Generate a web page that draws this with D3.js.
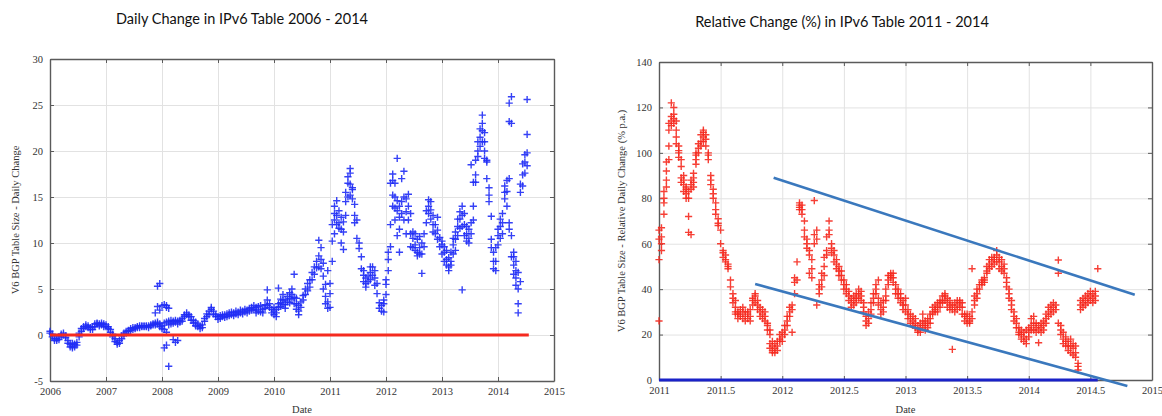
<!DOCTYPE html>
<html>
<head>
<meta charset="utf-8">
<script src="https://cdn.jsdelivr.net/npm/d3@7"></script>
<style>
  body { margin: 0; background: #ffffff; }
  .tick text { font-family: "Liberation Serif", "DejaVu Serif", serif; font-size: 10.5px; fill: #333; }
  .axis-label { font-family: "Liberation Serif", "DejaVu Serif", serif; font-size: 10.5px; fill: #333; }
  .title { font-family: Lato, "Open Sans", sans-serif; font-size: 14.5px; fill: #111; }
</style>
</head>
<body>
<svg id="chart" width="1162" height="416"></svg>
<script>
// ---- Daily change in the IPv6 BGP table (prefixes per day) ----
// One entry every 0.04 year from the start of each year; an entry lists the values observed around that date.
const dailyStep = 0.04;
const daily2006 = [[0.4,0.2],[0.1,-0.2],[-0.4,-0.6],[-0.6,-0.4],[-0.5,-0.2],[-0.1,0.1],[0.2,0.0],[-0.1,-0.3],[-0.6,-0.9],[-1.0,-1.3],
  [-1.2,-1.4,-0.9],[-1.3,-1.0],[-0.8,-1.1],[-0.2,0.2],[0.4,0.7],[0.7,0.9],[0.9,1.1],[1.0,0.8],[0.8,0.6],[0.6,0.9],
  [0.9,1.2],[1.2,1.3],[1.2,1.0],[1.1,1.3],[1.2,0.9]];
const daily2007 = [[1.1,0.9],[0.9,0.7],[0.6,0.3],[0.1,-0.2],[-0.4,-0.7],[-0.8,-1.0],[-0.9,-0.6],[-0.4,-0.1],[0.0,0.2],[0.2,0.4],
  [0.4,0.5],[0.5,0.7],[0.6,0.8],[0.7,0.8],[0.8,0.9],[0.8,1.0],[0.9,1.0],[0.9,1.0],[1.0,0.9],[1.0,0.8],
  [1.0,1.1],[1.1,1.2],[1.3,1.1,2.4],[1.2,1.4,5.3,3.1],[1.2,0.9,5.6,2.7]];
const daily2008 = [[1.0,0.7,3.2],[1.3,0.6,3.3,-1.4],[1.4,3.0,3.2,-1.1,0.3],[1.5,1.1,2.9,-3.4],[1.6,1.2],[1.5,1.3,-0.5],[1.4,1.6,-0.8],[1.5,1.2,-0.6],[1.6,1.4],[1.8,1.5],
  [2.2,2.0],[2.4,2.2],[2.2,2.0],[2.0,1.6],[1.6,1.3],[1.4,1.0],[0.9,1.2],[0.7,1.0],[0.8,1.1],[1.5,1.8],
  [2.0,2.3],[2.6,2.2],[3.0,2.8],[2.6,2.3],[2.2,2.0]];
const daily2009 = [[2.0,1.7],[1.8,2.1],[2.0,2.2],[2.2,1.9],[2.3,2.0],[2.1,2.4],[2.2,2.5],[2.4,2.1],[2.3,2.6],[2.2,2.5],
  [2.4,2.7],[2.6,2.3],[2.5,2.8],[2.7,2.4],[2.9,2.6],[3.0,2.7],[2.8,3.2],[2.7,3.0,2.4],[3.1,2.6],[3.2,2.5],
  [2.4,2.8],[3.3,2.9],[3.8,3.2,4.9],[3.4,3.0],[2.8,2.4]];
const daily2010 = [[2.2,2.6,3.0],[2.4,2.0,2.8],[3.0,3.4,5.1],[3.5,3.9,3.1],[3.8,4.4,3.3],[3.3,3.8,2.9],[3.6,4.2],[4.0,4.6,3.5],[4.4,5.0,3.9],[4.1,6.6,3.4],
  [3.4,2.8,4.0],[2.6,2.2,3.2],[3.0,3.6],[3.8,4.3],[4.4,5.0],[4.8,5.6],[5.2,6.0],[6.0,6.8],[6.6,7.4],[7.3,8.0],
  [7.4,8.6,10.3],[8.2,7.2,9.5],[7.8,6.4,5.0],[5.5,4.2,3.4],[3.6,2.9,7.0]];
const daily2011 = [[3.0,4.5,5.6],[8.0,10.2,12.0],[12.5,14.0,13.2,11.0],[14.6,13.0,12.0],[13.5,12.2,11.6],[12.8,11.5,10.0],[12.3,11.2,9.3],[13.0,14.5,15.5],[16.5,15.0,17.2],[17.6,16.4,15.2,18.1],
  [16.0,14.8,15.8],[14.2,13.0,12.2],[12.5,10.5],[10.0,9.4],[8.5,7.2],[6.5,5.8,7.0],[5.6,6.2,5.2],[5.8,6.4],[6.8,6.0,7.4],[6.5,7.4],
  [6.2,7.0,5.4],[5.6,4.5],[3.5,2.9],[2.6,3.2],[2.5,3.4,3.8]];
const daily2012 = [[4.4,5.5,6.0],[8.2,9.0,7.0],[9.6,12.0,16.5],[16.8,17.5,15.2,14.0],[16.5,15.0,13.8,12.5],[13.5,19.2,14.6,10.8],[12.8,14.0,9.0,11.5],[14.5,13.2,17.0],[15.0,17.8,12.5],[13.4,14.8,11.0],
  [14.0,12.5,15.3],[13.2,11.0,9.6],[10.5,9.5,11.2],[9.8,11.0,9.2],[10.4,9.0,8.6],[9.5,10.7,8.8],[8.8,10.0,6.7],[9.6,11.0],[12.2,13.5],[14.0,13.2,14.7],
  [14.5,13.6,12.6],[13.0,12.0,11.2],[12.0,11.0],[11.4,10.4,12.8],[10.6,9.6]];
const daily2013 = [[9.8,8.8,10.2],[9.0,8.0,9.6],[8.2,7.6,9.2],[7.4,8.4,7.0],[8.0,9.0,7.6],[8.8,9.8,10.5],[10.4,9.2,11.2],[11.8,12.6,10.8],[12.6,13.4,11.6],[13.0,11.8,4.9,14.0],
  [12.0,10.8,13.2],[11.0,10.2,11.8],[10.5,11.5,10.0],[11.0,12.2,18.5],[12.5,14.0,16.6],[16.6,17.4,19.0],[20.0,21.0,19.4],[21.5,22.4,20.5],[23.0,23.9,22.2,21.0],[22.0,21.0,20.0,19.2],
  [18.8,19.0,17.0],[15.2,14.5,16.0],[12.9,10.4,9.5],[9.0,8.0,7.2],[8.0,7.0,9.5]];
const daily2014 = [[9.8,10.8,11.5],[11.8,12.6,10.5],[12.2,13.2,11.0],[14.8,15.5,16.2],[15.6,16.8,14.0],[17.0,11.5,12.2,23.2,25.2],[25.9,23.0,10.8,8.5],[8.5,7.6,6.6,9.0],[7.0,6.2,5.4,8.0],[6.8,5.0,3.4,2.4],
  [5.8,15.5,16.4],[16.2,17.4,18.6],[17.6,18.8,19.6],[18.4,19.8,25.6,21.8]];
const dailyYears = [2006, 2007, 2008, 2009, 2010, 2011, 2012, 2013, 2014];
const dailyByYear = [daily2006, daily2007, daily2008, daily2009, daily2010, daily2011, daily2012, daily2013, daily2014];
const dailyZeroLine = [[2006, 0], [2014.55, 0]];
const dailyTicksX = [2006, 2007, 2008, 2009, 2010, 2011, 2012, 2013, 2014, 2015];
const dailyTicksY = [-5, 0, 5, 10, 15, 20, 25, 30];

// ---- Relative daily change, annualised (% p.a.) ----
// One entry every 0.02 year.
const relStep = 0.02;
const rel2011 = [[26,53,62,66],[57,63,67,60],[73,78,83,80],[85,88,96,92],[97,103,113,110],[114,116,122,112],[115,117,113,120],[114,107,110,104],[101,98,103,100],[94,97,89,87],
  [86,83,90,88],[82,85,80,84],[83,80,72,65],[86,84,88,64],[89,87,85,91],[97,100,95,99],[100,104,102],[105,108,103],[109,107,105,110],[108,103,106],
  [100,97,99],[90,86,88],[82,84,80],[78,75,73],[71,68,69],[66,60],[56,54,57],[55,53,52],[51,49,50],[44,41],
  [36,38,34],[32,30,29,35],[30,27,29],[31,29,28],[30,27,32],[28,30,26],[30,27,29],[28,26,31],[33,36,35],[37,34,38],
  [33,31,35],[30,32,28],[31,29,27],[28,30,26],[24,22,25],[16,14,20,22],[13,15,12,17],[12,14,16],[15,17,13],[18,20,17]];
const rel2012 = [[19,21,17],[22,24,20],[26,28,24],[30,32,28],[33,21,31],[38,43,45],[44,52],[76,78,75,77],[77,75,73],[70,66,63],
  [62,60,58],[57,55,47],[53,45,49],[60,79,64],[62,66,33],[38,42,40],[44,47,41],[50,54,46],[57,55,63],[66,70,64],
  [60,58,56],[55,52,57],[51,49,53],[48,46,50],[46,44,48],[42,40,44],[40,38,42],[37,35,39],[34,32,36],[33,35,37],
  [36,38,34],[38,40,36],[37,35,39],[34,32,30],[28,26,24],[27,25,30],[31,29,34],[36,38,34],[40,38,42],[44,36,33],
  [34,31,29],[32,30,35],[37,40,35],[42,44,46],[46,47,45],[45,47,43],[42,40,38],[38,36,40],[36,34,38],[33,31,35]];
const rel2013 = [[33,30,36],[29,27,31],[27,25,29],[26,24,28],[25,23,27],[24,22,21],[23,25,21],[29,26,24],[24,22,26],[25,23,27],
  [27,25,29],[30,32,29],[31,33,30],[32,34,30],[34,32,35],[35,37,34],[37,35,38],[36,34,32],[33,31,35],[31,13.5,33],
  [30,32,34],[33,31,35],[34,32,35],[32,29,34],[28,26,29],[27,25,29],[26,28,25],[30,49,27],[35,37,33],[38,40,36],
  [40,42],[43,44,42],[45,44,43],[48,50,47],[51,53,49],[52,54,50],[53,51,54],[55,57,52],[52,54,49],[50,48,53],
  [49,47,51],[45,43,41],[40,38,36],[35,33,31],[30,28,26],[27,25,23],[23,21,20],[20,18,22],[19,17,21],[18,16,22]];
const rel2014 = [[21,23,19],[24,27,22],[25,22,28],[23,21,25],[22,16.4,24],[21,23,25],[24,22,26],[27,29,25],[30,28,32],[31,33,29],
  [32,34,30],[33,31],[52.8,47,25],[24,22,20],[21,18,16],[19,17,15],[17,15,13],[15,12,18],[14,11,16],[12,10,15],
  [7.3,4.4,6],[31,33,35],[34,36,32],[35,37,33],[36,34,38],[35,37,39],[36,34,38],[37,35,39],[49]];
const relYears = [2011, 2012, 2013, 2014];
const relByYear = [rel2011, rel2012, rel2013, rel2014];
const relZeroLine = [[2011, 0], [2014.56, 0]];
const upperTrend = [[2011.93, 89], [2014.86, 37.5]];
const lowerTrend = [[2011.78, 42.3], [2014.80, -2.6]];
const relTicksX = [2011, 2011.5, 2012, 2012.5, 2013, 2013.5, 2014, 2014.5, 2015];
const relTicksY = [0, 20, 40, 60, 80, 100, 120, 140];

// Flatten per-year sample lists into [date, value] pairs.
function toPoints(years, byYear, step) {
  const pts = [];
  byYear.forEach((entries, yi) => {
    entries.forEach((vals, i) => {
      vals.forEach(v => pts.push([years[yi] + i * step, v]));
    });
  });
  return pts;
}

const svg = d3.select("#chart");
const plus = "M-3.6,0H3.6M0,-3.6V3.6";

function drawPanel(cfg) {
  const x = d3.scaleLinear().domain(cfg.xDomain).range([cfg.left, cfg.right]);
  const y = d3.scaleLinear().domain(cfg.yDomain).range([cfg.bottom, cfg.top]);
  const g = svg.append("g");
  const h = cfg.bottom - cfg.top, w = cfg.right - cfg.left;

  // grid
  g.append("g").attr("transform", `translate(0,${cfg.bottom})`)
    .call(d3.axisBottom(x).tickValues(cfg.xTicks).tickSize(-h).tickFormat(""))
    .call(s => { s.select(".domain").remove(); s.selectAll("line").attr("stroke", "#e2e2e2").attr("stroke-width", 1); });
  g.append("g").attr("transform", `translate(${cfg.left},0)`)
    .call(d3.axisLeft(y).tickValues(cfg.yTicks).tickSize(-w).tickFormat(""))
    .call(s => { s.select(".domain").remove(); s.selectAll("line").attr("stroke", "#e2e2e2").attr("stroke-width", 1); });

  // axes with inward ticks on all four sides
  const fmt = d => String(d);
  const styleAxis = s => { s.select(".domain").attr("stroke", "#5a5a5a").attr("stroke-width", 1.4); s.selectAll(".tick line").attr("stroke", "#5a5a5a"); };
  g.append("g").attr("transform", `translate(0,${cfg.bottom})`)
    .call(d3.axisBottom(x).tickValues(cfg.xTicks).tickSizeInner(-4).tickSizeOuter(0).tickPadding(7).tickFormat(fmt)).call(styleAxis);
  g.append("g").attr("transform", `translate(0,${cfg.top})`)
    .call(d3.axisTop(x).tickValues(cfg.xTicks).tickSizeInner(-4).tickSizeOuter(0).tickFormat("")).call(styleAxis);
  g.append("g").attr("transform", `translate(${cfg.left},0)`)
    .call(d3.axisLeft(y).tickValues(cfg.yTicks).tickSizeInner(-4).tickSizeOuter(0).tickPadding(7).tickFormat(fmt)).call(styleAxis);
  g.append("g").attr("transform", `translate(${cfg.right},0)`)
    .call(d3.axisRight(y).tickValues(cfg.yTicks).tickSizeInner(-4).tickSizeOuter(0).tickFormat("")).call(styleAxis);

  // scatter of "+" markers
  g.append("g").selectAll("path").data(cfg.points).join("path")
    .attr("d", plus)
    .attr("transform", d => `translate(${x(d[0])},${y(d[1])})`)
    .attr("stroke", cfg.markColor).attr("stroke-width", 1.4).attr("fill", "none").attr("opacity", 0.9);

  const line = d3.line().x(d => x(d[0])).y(d => y(d[1]));
  g.append("path").datum(cfg.zero).attr("d", line).attr("stroke", cfg.zeroColor).attr("stroke-width", 3).attr("fill", "none");
  (cfg.trends || []).forEach(t => {
    g.append("path").datum(t).attr("d", line).attr("stroke", "#3a78bd").attr("stroke-width", 2.6).attr("fill", "none");
  });

  // labels
  g.append("text").attr("class", "title").attr("x", cfg.titleX).attr("y", cfg.titleY).attr("text-anchor", "middle").text(cfg.title);
  g.append("text").attr("class", "axis-label").attr("x", (cfg.left + cfg.right) / 2).attr("y", cfg.dateY).attr("text-anchor", "middle").text("Date");
  g.append("text").attr("class", "axis-label").attr("text-anchor", "middle")
    .attr("transform", `translate(${cfg.yLabelX},${(cfg.top + cfg.bottom) / 2}) rotate(-90)`).text(cfg.yLabel);
}

drawPanel({
  left: 50, right: 554, top: 59, bottom: 381,
  xDomain: [2006, 2015], yDomain: [-5, 30],
  xTicks: dailyTicksX, yTicks: dailyTicksY,
  points: toPoints(dailyYears, dailyByYear, dailyStep),
  markColor: "#1f2cf5", zero: dailyZeroLine, zeroColor: "#f52a1f",
  title: "Daily Change in IPv6 Table 2006 - 2014", titleX: 242, titleY: 24,
  yLabel: "V6 BGP Table Size - Daily Change", yLabelX: 19, dateY: 413
});

drawPanel({
  left: 659, right: 1152, top: 62, bottom: 380,
  xDomain: [2011, 2015], yDomain: [0, 140],
  xTicks: relTicksX, yTicks: relTicksY,
  points: toPoints(relYears, relByYear, relStep),
  markColor: "#f52a1f", zero: relZeroLine, zeroColor: "#1a22c8",
  trends: [upperTrend, lowerTrend],
  title: "Relative Change (%) in IPv6 Table 2011 - 2014", titleX: 842, titleY: 27,
  yLabel: "V6 BGP Table Size - Relative Daily Change (% p.a.)", yLabelX: 625, dateY: 413
});
</script>
</body>
</html>
